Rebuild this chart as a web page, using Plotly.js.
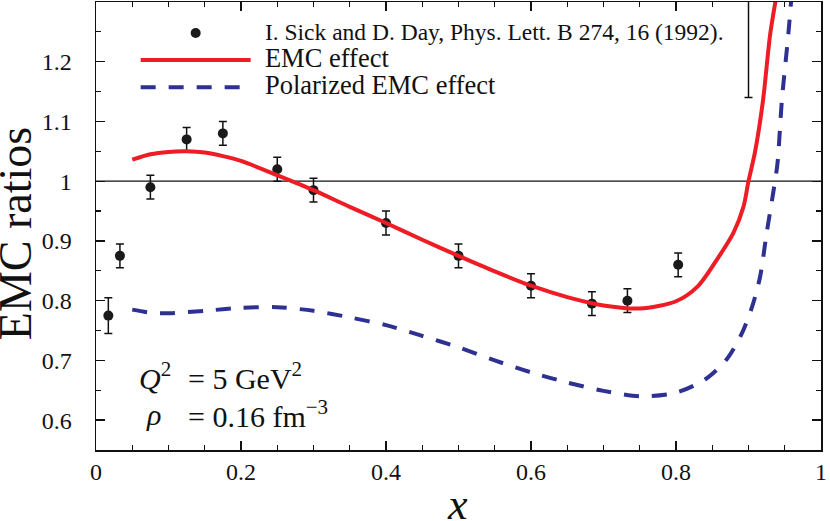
<!DOCTYPE html>
<html>
<head>
<meta charset="utf-8">
<script src="https://cdn.plot.ly/plotly-3.0.1.min.js"></script>
<style>html,body{margin:0;padding:0;background:#fff;}#chart{width:830px;height:521px;}</style>
</head>
<body>
<div id="chart"></div>
<script>
// Data points (Sick & Day 1992)
const dataX = [0.017, 0.033, 0.075, 0.125, 0.175, 0.25, 0.30, 0.40, 0.50, 0.60, 0.684, 0.733, 0.803, 0.90];
const dataY = [0.775, 0.875, 0.99, 1.07, 1.08, 1.02, 0.985, 0.93, 0.875, 0.825, 0.795, 0.80, 0.86, 1.36];
const dataErr = [0.03, 0.02, 0.02, 0.02, 0.02, 0.02, 0.02, 0.02, 0.02, 0.02, 0.02, 0.02, 0.02, 0.22];

// EMC effect curve
const emcX = [0.05, 0.075, 0.10, 0.125, 0.15, 0.175, 0.20, 0.25, 0.30, 0.35, 0.40, 0.45, 0.50, 0.55, 0.60, 0.65, 0.70, 0.75, 0.80, 0.83, 0.856, 0.879, 0.893, 0.90, 0.909, 0.92, 0.93, 0.94];
const emcY = [1.036, 1.045, 1.049, 1.050, 1.048, 1.042, 1.034, 1.010, 0.985, 0.957, 0.930, 0.902, 0.875, 0.849, 0.825, 0.806, 0.792, 0.787, 0.799, 0.824, 0.868, 0.913, 0.957, 1.000, 1.049, 1.135, 1.247, 1.320];

// Polarized EMC effect curve
const polX = [0.05, 0.075, 0.10, 0.15, 0.20, 0.25, 0.30, 0.35, 0.40, 0.45, 0.50, 0.55, 0.60, 0.65, 0.70, 0.75, 0.80, 0.84, 0.87, 0.89, 0.905, 0.916, 0.925, 0.934, 0.94, 0.946, 0.955, 0.96];
const polY = [0.785, 0.780, 0.779, 0.783, 0.788, 0.789, 0.783, 0.772, 0.759, 0.741, 0.722, 0.700, 0.680, 0.663, 0.649, 0.640, 0.646, 0.668, 0.702, 0.743, 0.790, 0.840, 0.913, 0.980, 1.030, 1.135, 1.247, 1.320];

const legendNames = [
  'I. Sick and D. Day, Phys. Lett. B 274, 16 (1992).',
  'EMC effect',
  'Polarized EMC effect'
];
const xTitle = '<i>x</i>';
const yTitle = 'EMC ratios';

const FONT = 'Liberation Serif, serif';
const INK = '#111111';
const NB = '\u00a0\u00a0';

const traces = [
  {
    x: dataX, y: dataY, type: 'scatter', mode: 'markers',
    name: NB + '<span style="font-size:23.5px">' + legendNames[0] + '</span>',
    marker: {size: 10, color: '#1a1a1a'},
    error_y: {type: 'data', array: dataErr, visible: true, color: '#111', thickness: 1.5, width: 4}
  },
  {
    x: emcX, y: emcY, type: 'scatter', mode: 'lines',
    name: NB + '<span style="font-size:26.5px">' + legendNames[1] + '</span>',
    line: {color: '#ee1c25', width: 4, shape: 'spline', smoothing: 0.8}
  },
  {
    x: polX, y: polY, type: 'scatter', mode: 'lines',
    name: NB + '<span style="font-size:26.5px">' + legendNames[2] + '</span>',
    line: {color: '#2e3192', width: 4, dash: '15px,13px', shape: 'spline', smoothing: 0.8}
  }
];

const axisCommon = {
  showline: true, linecolor: INK, linewidth: 1.5, mirror: 'ticks',
  ticks: 'inside', ticklen: 9, tickwidth: 1.4, tickcolor: INK,
  showgrid: false, zeroline: false, automargin: false,
  tickfont: {family: FONT, size: 24, color: INK}
};

const layout = {
  width: 830, height: 521,
  margin: {l: 96, r: 9, t: 2, b: 71},
  paper_bgcolor: '#fff', plot_bgcolor: '#fff',
  font: {family: FONT, color: INK},
  showlegend: true,
  legend: {
    x: 0.0547, y: 0.972, xanchor: 'left', yanchor: 'top',
    bgcolor: 'rgba(0,0,0,0)', borderwidth: 0,
    font: {family: FONT, size: 18.5, color: INK},
    itemwidth: 110, tracegroupgap: 0
  },
  xaxis: Object.assign({}, axisCommon, {
    range: [0, 1], dtick: 0.2, tick0: 0,
    minor: {ticks: 'inside', ticklen: 5, dtick: 0.05, tickwidth: 1.2, tickcolor: INK},
    ticklabelstandoff: 0
  }),
  yaxis: Object.assign({}, axisCommon, {
    range: [0.55, 1.3], dtick: 0.1, tick0: 0.6,
    minor: {ticks: 'inside', ticklen: 5, dtick: 0.05, tickwidth: 1.2, tickcolor: INK},
    ticklabelstandoff: 18
  }),
  shapes: [
    {type: 'line', xref: 'paper', x0: 0, x1: 1, yref: 'y', y0: 1, y1: 1,
     line: {color: INK, width: 1.3}, layer: 'below'}
  ],
  annotations: [
    // axis titles
    {xref: 'paper', yref: 'paper', x: 0.499, y: -0.121, xanchor: 'center', yanchor: 'middle',
     text: xTitle, showarrow: false, font: {family: FONT, size: 44, color: INK}},
    {xref: 'paper', yref: 'paper', x: -0.111, y: 0.483, xanchor: 'center', yanchor: 'middle',
     text: yTitle, textangle: -90, showarrow: false, font: {family: FONT, size: 46, color: INK}},
    // conditions
    {xref: 'paper', yref: 'paper', x: 0.057, y: 0.165, xanchor: 'left', yanchor: 'middle',
     text: '<i>Q</i><sup>2</sup>', showarrow: false, font: {family: FONT, size: 30, color: INK}},
    {xref: 'paper', yref: 'paper', x: 0.124, y: 0.165, xanchor: 'left', yanchor: 'middle',
     text: '= 5 GeV<sup>2</sup>', showarrow: false, font: {family: FONT, size: 30, color: INK}},
    {xref: 'paper', yref: 'paper', x: 0.066, y: 0.08, xanchor: 'left', yanchor: 'middle',
     text: '<i>ρ</i>', showarrow: false, font: {family: FONT, size: 30, color: INK}},
    {xref: 'paper', yref: 'paper', x: 0.124, y: 0.08, xanchor: 'left', yanchor: 'middle',
     text: '= 0.16 fm<sup>−3</sup>', showarrow: false, font: {family: FONT, size: 30, color: INK}}
  ]
};

Plotly.newPlot('chart', traces, layout, {displayModeBar: false, staticPlot: true});
</script>
</body>
</html>
